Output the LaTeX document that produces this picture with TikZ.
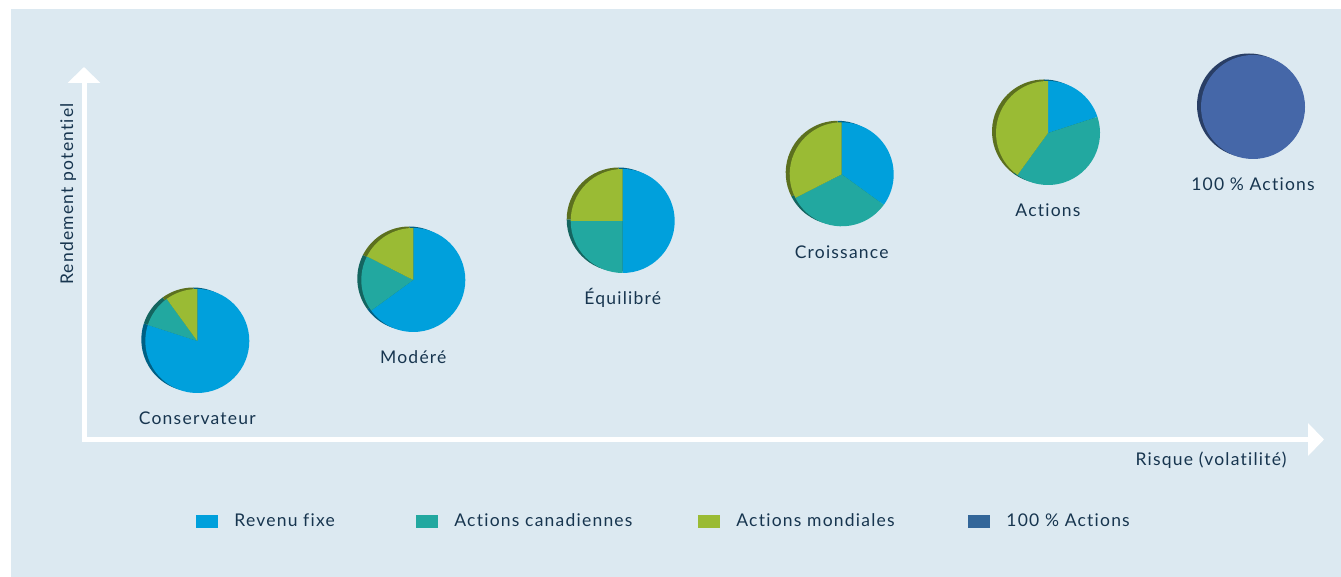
\documentclass[tikz,border=0pt]{standalone}
\usepackage{fontspec}
\setmainfont{Lato}[LetterSpace=7, Ligatures=CommonOff]
\usetikzlibrary{arrows.meta,positioning}

\definecolor{bgblue}{HTML}{DCE9F1}
\definecolor{txtblue}{HTML}{17354F}
\definecolor{fixe}{HTML}{00A0DC}
\definecolor{cad}{HTML}{22A8A0}
\definecolor{mond}{HTML}{9ABB34}
\definecolor{full}{HTML}{4567A8}
\definecolor{fullkey}{HTML}{336699}

\begin{document}
\begin{tikzpicture}[x=1pt,y=1pt,
	axis/.style={white, line width=5pt, -{Triangle[length=16pt,width=32pt]}},
	lbl/.style={text=txtblue, font=\fontsize{17.5}{20}\selectfont, inner sep=0pt},
	swatch/.style={minimum width=22pt, minimum height=13pt, inner sep=0pt}]
	\useasboundingbox (0,0) rectangle (1341,577);
	\fill[white] (0,0) rectangle (1341,577);
	\fill[bgblue] (11,0) rectangle (1341,568);

	% axes
	\coordinate (origin) at (84,137.5);
	\coordinate (ytip) at (84,510);
	\coordinate (xtip) at (1324,137.5);
	\draw[axis] ([yshift=-2.5pt]origin) -- (ytip);
	\draw[axis] ([xshift=-2.5pt]origin) -- (xtip);
	\node[lbl, rotate=90, anchor=base] (ylbl) at (73,383) {Rendement potentiel};
	\node[lbl, anchor=base] (xlbl) at (1211,111) {Risque (volatilité)};

	% portfolios
	\foreach \name/\cx/\cy/\ba/\ta/\txt in {cons/197.3/236/-198/-234/Conservateur,
		mod/413.3/297/-144/-207/Modéré, equi/622.7/356/-90/-180/Équilibré,
		crois/841.7/402.7/-36/-153/Croissance, act/1048/444/18/-126/Actions}
	{
		\coordinate (\name) at (\cx,\cy);
		\foreach \s/\e/\col in {90/\ba/fixe, \ba/\ta/cad, \ta/-270/mond}
		\fill[\col!60!black] ([shift={(-4,1.5)}]\name) -- +(\s:52pt) arc (\s:\e:52pt) -- cycle;
		\foreach \s/\e/\col in {90/\ba/fixe, \ba/\ta/cad, \ta/-270/mond}
		\fill[\col] (\name) -- +(\s:52pt) arc (\s:\e:52pt) -- cycle;
		\node[lbl, anchor=base] (\name-lbl) at ([yshift=-84pt]\name) {\txt};
	}
	\coordinate (all) at (1253,470);
	\fill[full!60!black] ([shift={(-4,1.5)}]all) circle (52pt);
	\fill[full] (all) circle (52pt);
	\node[lbl, anchor=base] (all-lbl) at ([yshift=-84pt]all) {100 \% Actions};

	% legend
	\foreach \i/\x/\col/\txt in {1/207/fixe/Revenu fixe, 2/427/cad/Actions canadiennes,
		3/709/mond/Actions mondiales, 4/979/fullkey/100 \% Actions}
	{
		\node[swatch, fill=\col] (key\i) at (\x,55) {};
		\node[lbl, anchor=base west] (key\i-txt) at ([xshift=16pt,yshift=-5pt]key\i.east) {\txt};
	}
\end{tikzpicture}
\end{document}
